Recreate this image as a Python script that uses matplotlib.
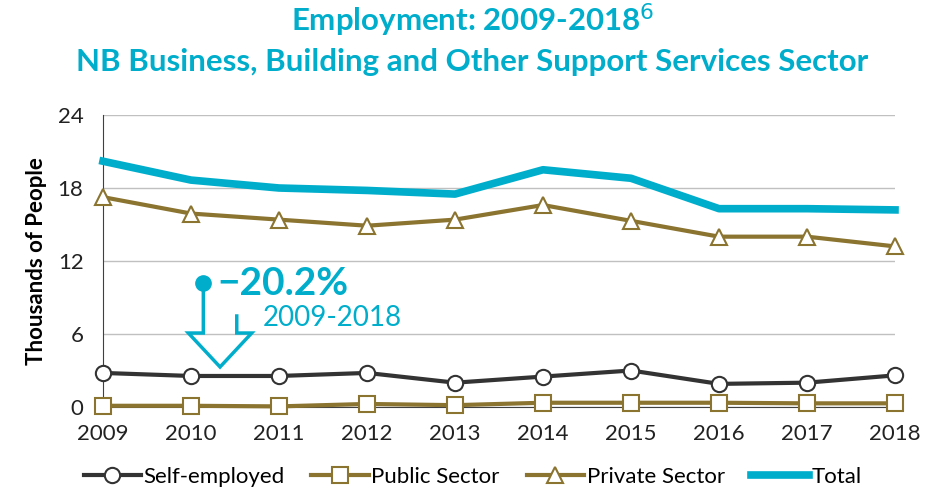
import matplotlib.pyplot as plt

plt.rcParams['font.family'] = ['Lato', 'DejaVu Sans']

years = [2009, 2010, 2011, 2012, 2013, 2014, 2015, 2016, 2017, 2018]
self_employed = [2.8, 2.55, 2.55, 2.8, 2.0, 2.5, 3.0, 1.9, 2.0, 2.6]
public_sector = [0.1, 0.1, 0.05, 0.25, 0.15, 0.35, 0.35, 0.35, 0.3, 0.3]
private_sector = [17.25, 15.9, 15.4, 14.9, 15.4, 16.6, 15.3, 14.0, 14.0, 13.2]
total = [20.2, 18.65, 18.0, 17.8, 17.5, 19.5, 18.8, 16.3, 16.3, 16.2]

teal = '#00AECC'
olive = '#8B7430'
dark = '#333333'

fig = plt.figure(figsize=(9.45, 4.93), dpi=100)
ax = fig.add_axes([103 / 945, 1 - 407 / 493, 792 / 945, 292 / 493])

ax.plot(years, self_employed, color=dark, lw=3, marker='o', ms=11,
        mfc='white', mec=dark, mew=1.5, clip_on=False, zorder=4, label='Self-employed')
ax.plot(years, public_sector, color=olive, lw=3, marker='s', ms=11,
        mfc='white', mec=olive, mew=1.5, clip_on=False, zorder=4, label='Public Sector')
ax.plot(years, private_sector, color=olive, lw=3, marker='^', ms=12,
        mfc='white', mec=olive, mew=1.5, clip_on=False, zorder=4, label='Private Sector')
ax.plot(years, total, color=teal, lw=5.5, clip_on=False, zorder=3, label='Total')

ax.set_xlim(2009, 2018)
ax.set_ylim(0, 24)
ax.set_yticks([0, 6, 12, 18, 24])
ax.set_xticks(years)
ax.grid(axis='y', color='#C0C0C0', lw=1)
ax.set_axisbelow(True)
for s in ['top', 'right']:
    ax.spines[s].set_visible(False)
ax.spines['left'].set_color('#404040')
ax.spines['bottom'].set_color('#404040')
ax.tick_params(length=0, labelsize=16, colors='#222222')
ax.tick_params(axis='x', pad=12)
ax.tick_params(axis='y', pad=14)
ax.set_ylabel('Thousands of People', fontsize=16, fontweight='bold', labelpad=8)

# change annotation
ax.plot([2010.14], [10.19], 'o', color=teal, ms=11, zorder=5)
ax.plot([2010.14, 2010.14, 2009.97, 2010.33, 2010.69, 2010.52, 2010.52],
        [10.19, 6.08, 6.08, 3.29, 6.08, 6.08, 7.48],
        color=teal, lw=2.5, zorder=5, solid_joinstyle='miter')
ax.text(2010.3, 10.19, '\u221220.2%', color=teal, fontsize=28, fontweight='bold',
        va='center', ha='left')
ax.text(2010.82, 7.3, '2009-2018', color=teal, fontsize=20, va='center', ha='left')

fig.text(0.5, 1 - 20 / 493, 'Employment: 2009-2018$^{6}$', color=teal, fontsize=22.5,
         fontweight='bold', ha='center', va='center')
fig.text(0.5, 1 - 62 / 493, 'NB Business, Building and Other Support Services Sector',
         color=teal, fontsize=22.5, fontweight='bold', ha='center', va='center')

fig.legend(loc='center', bbox_to_anchor=(0.5, 1 - 477 / 493), ncol=4, frameon=False,
           fontsize=16, handlelength=2.6, handletextpad=0.1, columnspacing=1.2)

fig.savefig('out.png', dpi=100)
